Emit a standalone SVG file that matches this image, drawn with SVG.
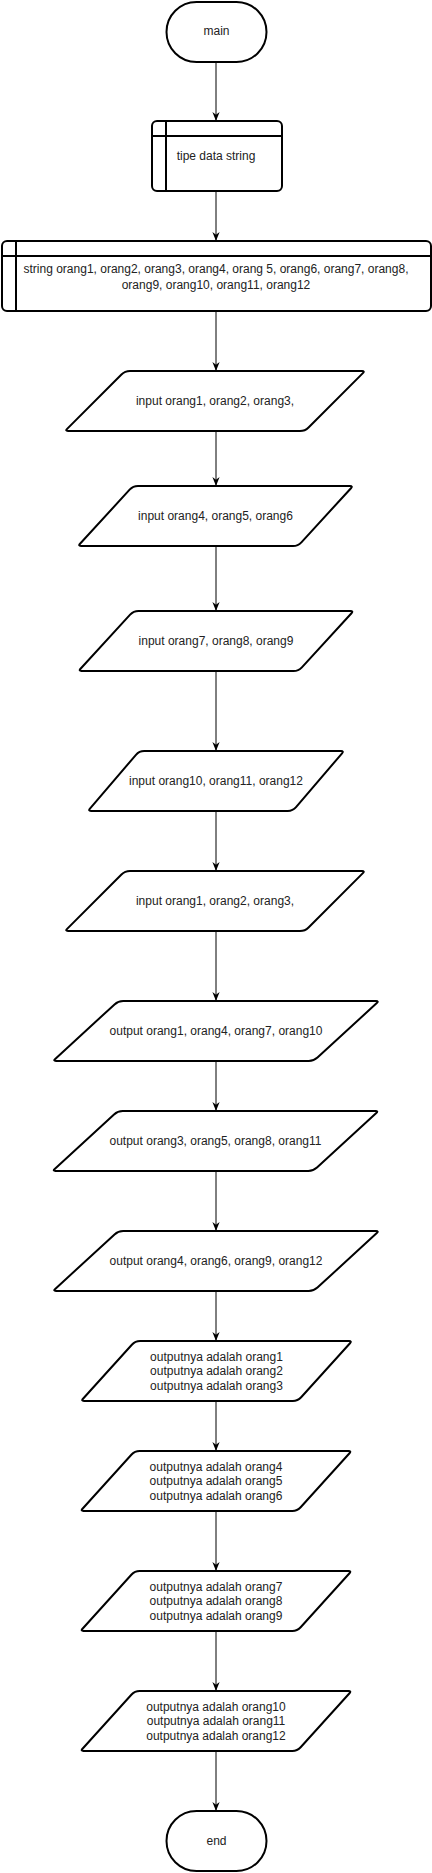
<svg xmlns="http://www.w3.org/2000/svg" width="432" height="1873" viewBox="0 0 432 1873">
<style>
.s{fill:#fff;stroke:#000;stroke-width:2}
.l{fill:none;stroke:#000;stroke-width:2}
.c{fill:none;stroke:#000;stroke-width:1}
.t{font-family:"Liberation Sans",Arial,Helvetica,sans-serif;font-size:12px;fill:#222;text-anchor:middle}
</style>
<defs>
<marker id="arr" viewBox="0 0 10 8" refX="10" refY="4" markerWidth="9" markerHeight="7.2" markerUnits="userSpaceOnUse" orient="auto">
<path d="M0,0 L10,4 L0,8 L3,4 Z" fill="#000"/>
</marker>
<path id="pg300" d="M2.12,57.88 L56.46,3.54 Q60,0 65,0 L297,0 Q300,0 297.88,2.12 L243.54,56.46 Q240,60 235,60 L3,60 Q0,60 2.12,57.88 Z"/>
<path id="pg275" d="M2.03,57.79 L51.62,3.69 Q55,0 60,0 L272,0 Q275,0 272.97,2.21 L223.38,56.31 Q220,60 215,60 L3,60 Q0,60 2.03,57.79 Z"/>
<path id="pg256" d="M1.95,57.72 L47.95,3.8 Q51.2,0 56.2,0 L253,0 Q256,0 254.05,2.28 L208.05,56.2 Q204.8,60 199.8,60 L3,60 Q0,60 1.95,57.72 Z"/>
<path id="pg326" d="M2.21,57.97 L61.52,3.39 Q65.2,0 70.2,0 L323,0 Q326,0 323.79,2.03 L264.48,56.61 Q260.8,60 255.8,60 L3,60 Q0,60 2.21,57.97 Z"/>
<path id="pg271" d="M2.01,57.77 L50.85,3.71 Q54.2,0 59.2,0 L268,0 Q271,0 268.99,2.23 L220.15,56.29 Q216.8,60 211.8,60 L3,60 Q0,60 2.01,57.77 Z"/>
</defs>

<g id="connectors">
<line class="c" x1="216" y1="62" x2="216" y2="121" marker-end="url(#arr)"/>
<line class="c" x1="216" y1="191" x2="216" y2="241" marker-end="url(#arr)"/>
<line class="c" x1="216" y1="311" x2="216" y2="371" marker-end="url(#arr)"/>
<line class="c" x1="216" y1="431" x2="216" y2="486" marker-end="url(#arr)"/>
<line class="c" x1="216" y1="546" x2="216" y2="611" marker-end="url(#arr)"/>
<line class="c" x1="216" y1="671" x2="216" y2="751" marker-end="url(#arr)"/>
<line class="c" x1="216" y1="811" x2="216" y2="871" marker-end="url(#arr)"/>
<line class="c" x1="216" y1="931" x2="216" y2="1001" marker-end="url(#arr)"/>
<line class="c" x1="216" y1="1061" x2="216" y2="1111" marker-end="url(#arr)"/>
<line class="c" x1="216" y1="1171" x2="216" y2="1231" marker-end="url(#arr)"/>
<line class="c" x1="216" y1="1291" x2="216" y2="1341" marker-end="url(#arr)"/>
<line class="c" x1="216" y1="1401" x2="216" y2="1451" marker-end="url(#arr)"/>
<line class="c" x1="216" y1="1511" x2="216" y2="1571" marker-end="url(#arr)"/>
<line class="c" x1="216" y1="1631" x2="216" y2="1691" marker-end="url(#arr)"/>
<line class="c" x1="216" y1="1751" x2="216" y2="1811" marker-end="url(#arr)"/>
</g>

<g id="main">
<rect class="s" x="166.5" y="2" width="100" height="60" rx="30"/>
<text class="t" x="216.5" y="35">main</text>
</g>

<g id="tipe">
<rect class="s" x="152" y="121" width="130" height="70" rx="5"/>
<line class="l" x1="166" y1="121" x2="166" y2="191"/>
<line class="l" x1="152" y1="136" x2="282" y2="136"/>
<text class="t" x="216" y="160">tipe data string</text>
</g>

<g id="decl">
<rect class="s" x="2" y="241" width="429" height="70" rx="5"/>
<line class="l" x1="16" y1="241" x2="16" y2="311"/>
<line class="l" x1="2" y1="256" x2="431" y2="256"/>
<text class="t" x="216" y="272.5">string orang1, orang2, orang3, orang4, orang 5, orang6, orang7, orang8,</text>
<text class="t" x="216" y="288.5">orang9, orang10, orang11, orang12</text>
</g>

<g id="in1">
<use href="#pg300" class="s" x="65" y="371"/>
<text class="t" x="215" y="405">input orang1, orang2, orang3,</text>
</g>
<g id="in2">
<use href="#pg275" class="s" x="78" y="486"/>
<text class="t" x="215.5" y="520">input orang4, orang5, orang6</text>
</g>
<g id="in3">
<use href="#pg275" class="s" x="78.5" y="611"/>
<text class="t" x="216" y="645">input orang7, orang8, orang9</text>
</g>
<g id="in4">
<use href="#pg256" class="s" x="88" y="751"/>
<text class="t" x="216" y="785">input orang10, orang11, orang12</text>
</g>
<g id="in5">
<use href="#pg300" class="s" x="65" y="871"/>
<text class="t" x="215" y="905">input orang1, orang2, orang3,</text>
</g>
<g id="out1">
<use href="#pg326" class="s" x="53" y="1001"/>
<text class="t" x="216" y="1035">output orang1, orang4, orang7, orang10</text>
</g>
<g id="out2">
<use href="#pg326" class="s" x="52.5" y="1111"/>
<text class="t" x="215.5" y="1145">output orang3, orang5, orang8, orang11</text>
</g>
<g id="out3">
<use href="#pg326" class="s" x="53" y="1231"/>
<text class="t" x="216" y="1265">output orang4, orang6, orang9, orang12</text>
</g>
<g id="res1">
<use href="#pg271" class="s" x="81" y="1341"/>
<text class="t" x="216.5" y="1361">outputnya adalah orang1</text>
<text class="t" x="216.5" y="1375">outputnya adalah orang2</text>
<text class="t" x="216.5" y="1390">outputnya adalah orang3</text>
</g>
<g id="res2">
<use href="#pg271" class="s" x="80.5" y="1451"/>
<text class="t" x="216" y="1471">outputnya adalah orang4</text>
<text class="t" x="216" y="1485">outputnya adalah orang5</text>
<text class="t" x="216" y="1500">outputnya adalah orang6</text>
</g>
<g id="res3">
<use href="#pg271" class="s" x="80.5" y="1571"/>
<text class="t" x="216" y="1591">outputnya adalah orang7</text>
<text class="t" x="216" y="1605">outputnya adalah orang8</text>
<text class="t" x="216" y="1620">outputnya adalah orang9</text>
</g>
<g id="res4">
<use href="#pg271" class="s" x="80.5" y="1691"/>
<text class="t" x="216" y="1711">outputnya adalah orang10</text>
<text class="t" x="216" y="1725">outputnya adalah orang11</text>
<text class="t" x="216" y="1740">outputnya adalah orang12</text>
</g>

<g id="end">
<rect class="s" x="166.5" y="1811" width="100" height="60" rx="30"/>
<text class="t" x="216.5" y="1845">end</text>
</g>
</svg>
